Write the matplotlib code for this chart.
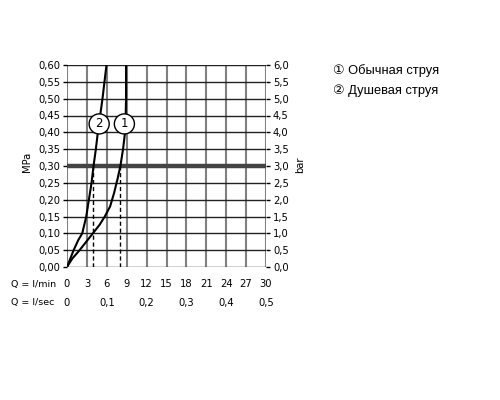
import matplotlib
matplotlib.use("Agg")
import matplotlib.pyplot as plt
import matplotlib.transforms as mtransforms

# Data
c2_q = [0, 0.4, 1.0, 1.7, 2.3, 2.9, 3.3, 3.7, 4.0, 4.35, 4.65, 5.0, 5.35, 5.65, 5.95]
c2_p = [0, 0.02, 0.05, 0.08, 0.10, 0.15, 0.20, 0.25, 0.30, 0.35, 0.40, 0.45, 0.50, 0.55, 0.60]
c1_q = [0, 0.8, 1.9, 2.9, 3.9, 4.9, 5.7, 6.5, 7.1, 7.6, 8.05, 8.45, 8.75, 8.85, 8.9, 8.9]
c1_p = [0, 0.025, 0.05, 0.075, 0.10, 0.125, 0.15, 0.18, 0.22, 0.26, 0.30, 0.35, 0.40, 0.45, 0.50, 0.60]
dash_q = [3.95, 8.05]
ref_pressure = 0.30
label_pos = [("2", 4.85, 0.425), ("1", 8.65, 0.425)]
mpa_ticks = [i * 0.05 for i in range(13)]
mpa_labels = ["0,00", "0,05", "0,10", "0,15", "0,20", "0,25", "0,30", "0,35", "0,40", "0,45", "0,50", "0,55", "0,60"]
bar_labels = ["0,0", "0,5", "1,0", "1,5", "2,0", "2,5", "3,0", "3,5", "4,0", "4,5", "5,0", "5,5", "6,0"]
lmin_ticks = [0, 3, 6, 9, 12, 15, 18, 21, 24, 27, 30]
lsec_pos = [0, 6, 12, 18, 24, 30]
lsec_labels = ["0", "0,1", "0,2", "0,3", "0,4", "0,5"]
legend_items = ["\u2460 Обычная струя", "\u2461 Душевая струя"]

fam = ["DejaVu Sans", "Noto Sans CJK SC"]
fs = 7.2

fig = plt.figure(figsize=(5, 4), dpi=100)
ax = fig.add_axes([67/500, 1-267/400, 199/500, 202/400])
ax.set_xlim(0, 30)
ax.set_ylim(0, 0.6)

for q in lmin_ticks:
    ax.axvline(q, color="#808080", lw=1.5, zorder=1)
for p in mpa_ticks:
    ax.axhline(p, color="#222222", lw=1.0, zorder=1)
ax.axhline(ref_pressure, color="#444444", lw=3.2, zorder=2)

for q in dash_q:
    ax.plot([q, q], [0, ref_pressure], color="black", lw=1.0, ls=(0, (3, 2)), zorder=3)

ax.plot(c1_q, c1_p, color="black", lw=1.5, zorder=4, solid_capstyle="round")
ax.plot(c2_q, c2_p, color="black", lw=1.5, zorder=4, solid_capstyle="round")

for t, x, y in label_pos:
    ax.text(x, y, t, ha="center", va="center", fontsize=8.5, family=fam, zorder=5,
            bbox=dict(boxstyle="circle,pad=0.3", fc="white", ec="black", lw=1.0))

for s in ax.spines.values():
    s.set_visible(False)

ax.set_yticks(mpa_ticks)
ax.set_yticklabels(mpa_labels, fontsize=fs, family=fam)
ax.tick_params(axis="y", direction="out", length=3, width=1, pad=2)
ax.set_xticks([])

ax2 = ax.twinx()
ax2.set_ylim(0, 6)
ax2.set_yticks([i * 0.5 for i in range(13)])
ax2.set_yticklabels(bar_labels, fontsize=fs, family=fam)
ax2.tick_params(axis="y", direction="out", length=3, width=1, pad=2)
for s in ax2.spines.values():
    s.set_visible(False)

fig.text(27/500, 1-162/400, "MPa", rotation=90, ha="center", va="center", fontsize=fs, family=fam)
fig.text(300/500, 1-165/400, "bar", rotation=90, ha="center", va="center", fontsize=fs, family=fam)

trans = mtransforms.blended_transform_factory(ax.transData, fig.transFigure)
for q in lmin_ticks:
    ax.text(q, 1-284/400, str(q), transform=trans, ha="center", va="center", fontsize=fs, family=fam, clip_on=False)
for q, l in zip(lsec_pos, lsec_labels):
    ax.text(q, 1-303/400, l, transform=trans, ha="center", va="center", fontsize=fs, family=fam, clip_on=False)
fig.text(11/500, 1-284/400, "Q = l/min", ha="left", va="center", fontsize=6.8, family=fam)
fig.text(11/500, 1-303/400, "Q = l/sec", ha="left", va="center", fontsize=6.8, family=fam)

for i, t in enumerate(legend_items):
    fig.text(333/500, 1-(71 + 20*i)/400, t, ha="left", va="center", fontsize=9.3,
             family=["Liberation Sans", "DejaVu Sans", "Noto Sans CJK SC"])

fig.savefig("out.png", dpi=100)
